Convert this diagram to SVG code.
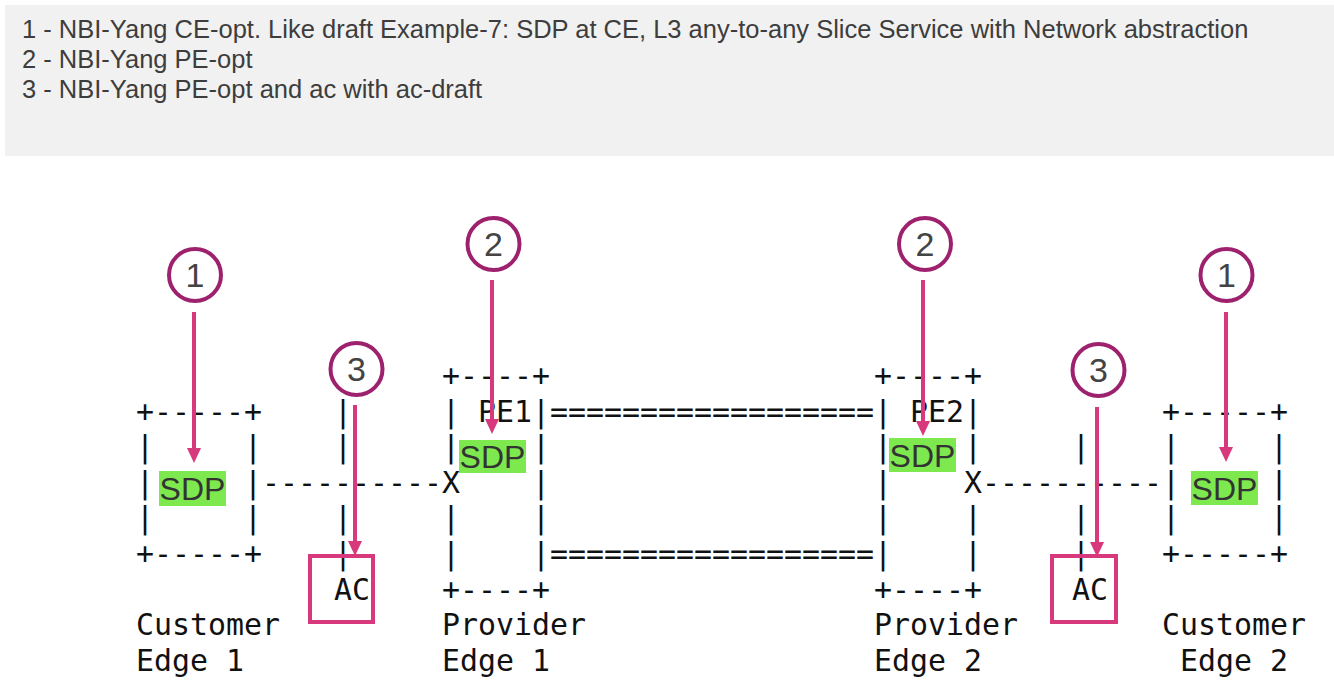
<svg xmlns="http://www.w3.org/2000/svg" width="1334" height="680" viewBox="0 0 1334 680">
<style>
.m{font-family:"DejaVu Sans Mono","Liberation Mono",monospace;font-size:29.9px;fill:#111}
.h{font-family:"Liberation Sans",Arial,sans-serif}
.t{font-size:25.5px;fill:#3d3d3d}
.sdpbg{fill:#7de94f}
.sdp{font-size:32px;fill:#333;text-anchor:middle}
.cir{fill:#fff;stroke:#9e216e;stroke-width:4}
.num{font-size:34px;fill:#444;text-anchor:middle}
.arr{stroke:#d8397c;stroke-width:4;fill:none}
.acb{fill:none;stroke:#d8397c;stroke-width:4}
</style>
<defs>
<marker id="ah" markerUnits="userSpaceOnUse" markerWidth="16" markerHeight="16" refX="4" refY="7" orient="auto">
<path d="M0,0 L15,7 L0,14 z" fill="#d8397c"/>
</marker>
</defs>
<rect width="1334" height="680" fill="#fff"/>
<g id="legend">
<rect x="5" y="5" width="1329" height="151" fill="#f1f1f1"/>
<text class="h t" x="22" y="38">1 - NBI-Yang CE-opt. Like draft Example-7: SDP at CE, L3 any-to-any Slice Service with Network abstraction</text>
<text class="h t" x="22" y="68">2 - NBI-Yang PE-opt</text>
<text class="h t" x="22" y="98">3 - NBI-Yang PE-opt and ac with ac-draft</text>
</g>
<g id="ce1">
<text class="m" x="136" y="421.6">+-----+</text>
<text class="m" x="136" y="457.2">|</text>
<text class="m" x="244" y="457.2">|</text>
<text class="m" x="136" y="492.8">|</text>
<text class="m" x="244" y="492.8">|</text>
<text class="m" x="136" y="528.4">|</text>
<text class="m" x="244" y="528.4">|</text>
<text class="m" x="136" y="564">+-----+</text>
<text class="m" x="136" y="635.2">Customer</text>
<text class="m" x="136" y="670.8">Edge 1</text>
<rect class="sdpbg" x="159" y="471" width="67" height="35"/>
<text class="h sdp" x="192.5" y="500">SDP</text>
</g>
<g id="ac1">
<text class="m" x="334" y="421.6">|</text>
<text class="m" x="334" y="457.2">|</text>
<text class="m" x="334" y="528.4">|</text>
<text class="m" x="334" y="564">|</text>
<text class="m" x="334" y="599.6">AC</text>
<rect class="acb" x="310" y="556" width="63" height="66"/>
</g>
<g id="pe1">
<text class="m" x="442" y="386">+----+</text>
<text class="m" x="442 478 496 514 532" y="421.6">|PE1|</text>
<text class="m" x="442" y="457.2">|</text>
<text class="m" x="532" y="457.2">|</text>
<text class="m" x="532" y="492.8">|</text>
<text class="m" x="442 532" y="528.4">||</text>
<text class="m" x="442 532" y="564">||</text>
<text class="m" x="442" y="599.6">+----+</text>
<text class="m" x="442" y="635.2">Provider</text>
<text class="m" x="442" y="670.8">Edge 1</text>
<rect class="sdpbg" x="459" y="440" width="67" height="33"/>
<text class="h sdp" x="492.5" y="468">SDP</text>
</g>
<g id="pe2">
<text class="m" x="874" y="386">+----+</text>
<text class="m" x="874 910 928 946 964" y="421.6">|PE2|</text>
<text class="m" x="874" y="457.2">|</text>
<text class="m" x="964" y="457.2">|</text>
<text class="m" x="874" y="492.8">|</text>
<text class="m" x="874 964" y="528.4">||</text>
<text class="m" x="874 964" y="564">||</text>
<text class="m" x="874" y="599.6">+----+</text>
<text class="m" x="874" y="635.2">Provider</text>
<text class="m" x="874" y="670.8">Edge 2</text>
<rect class="sdpbg" x="889" y="438" width="67" height="34"/>
<text class="h sdp" x="922.5" y="467">SDP</text>
</g>
<g id="ac2">
<text class="m" x="1072" y="457.2">|</text>
<text class="m" x="1072" y="528.4">|</text>
<text class="m" x="1072" y="564">|</text>
<text class="m" x="1072" y="599.6">AC</text>
<rect class="acb" x="1052" y="556" width="64" height="66"/>
</g>
<g id="ce2">
<text class="m" x="1162" y="421.6">+-----+</text>
<text class="m" x="1162" y="457.2">|</text>
<text class="m" x="1270" y="457.2">|</text>
<text class="m" x="1162" y="492.8">|</text>
<text class="m" x="1270" y="492.8">|</text>
<text class="m" x="1162" y="528.4">|</text>
<text class="m" x="1270" y="528.4">|</text>
<text class="m" x="1162" y="564">+-----+</text>
<text class="m" x="1162" y="635.2">Customer</text>
<text class="m" x="1180" y="670.8">Edge 2</text>
<rect class="sdpbg" x="1191" y="471" width="67" height="34"/>
<text class="h sdp" x="1224.5" y="499.5">SDP</text>
</g>
<g id="connectors">
<text class="m" x="262" y="492.8">----------X</text>
<text class="m" x="964" y="492.8">X----------</text>
<text class="m" x="550" y="421.6">==================</text>
<text class="m" x="550" y="564">==================</text>
</g>
<g id="callouts">
<circle class="cir" cx="195" cy="275" r="26"/><text class="h num" x="195" y="287">1</text>
<circle class="cir" cx="493.5" cy="244" r="26"/><text class="h num" x="493.5" y="256">2</text>
<circle class="cir" cx="356.5" cy="369" r="26"/><text class="h num" x="356.5" y="381">3</text>
<circle class="cir" cx="925" cy="244" r="26"/><text class="h num" x="925" y="256">2</text>
<circle class="cir" cx="1098.5" cy="370" r="26"/><text class="h num" x="1098.5" y="382">3</text>
<circle class="cir" cx="1226.5" cy="275" r="26"/><text class="h num" x="1226.5" y="287">1</text>
</g>
<g id="arrows">
<line class="arr" x1="194" y1="312" x2="194" y2="452" marker-end="url(#ah)"/>
<line class="arr" x1="492" y1="280" x2="492" y2="423" marker-end="url(#ah)"/>
<line class="arr" x1="355" y1="405" x2="355" y2="545" marker-end="url(#ah)"/>
<line class="arr" x1="923" y1="280" x2="923" y2="425" marker-end="url(#ah)"/>
<line class="arr" x1="1097" y1="407" x2="1097" y2="546" marker-end="url(#ah)"/>
<line class="arr" x1="1226" y1="312" x2="1226" y2="451" marker-end="url(#ah)"/>
</g>
</svg>
